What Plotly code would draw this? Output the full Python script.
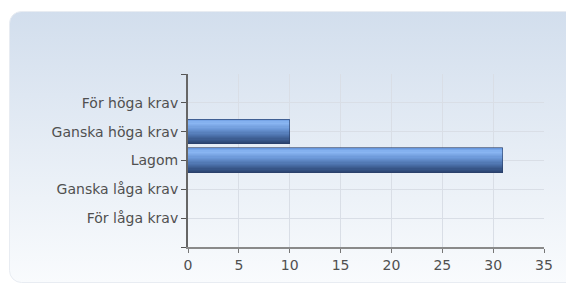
import plotly.graph_objects as go
import urllib.parse

categories = ["För höga krav", "Ganska höga krav", "Lagom", "Ganska låga krav", "För låga krav"]
values = [0, 10, 31, 0, 0]
x_ticks = [0, 5, 10, 15, 20, 25, 30, 35]

W, H = 566, 284
L, R, T, B = 188, 22, 74, 37
pw, ph = W - L - R, H - T - B

positions = list(range(len(categories)))

# bar gradient colours, top -> bottom
stops = [(0.0, (95, 143, 216)), (0.15, (140, 184, 244)), (0.4, (108, 152, 216)),
         (0.7, (74, 111, 168)), (1.0, (42, 67, 112))]

def grad(t):
    for (a, ca), (b, cb) in zip(stops[:-1], stops[1:]):
        if a <= t <= b:
            f = (t - a) / (b - a) if b > a else 0
            c = [round(ca[k] + (cb[k] - ca[k]) * f) for k in range(3)]
            return "rgb(%d,%d,%d)" % tuple(c)
    return "rgb(%d,%d,%d)" % stops[-1][1]

fig = go.Figure()
N = 20
bw = 0.84
sw = bw / N
for i in range(N):
    fig.add_trace(go.Bar(
        x=values, y=positions, orientation="h",
        width=sw * 1.05, offset=-bw / 2 + i * sw,
        marker=dict(color=grad((i + 0.5) / N), line=dict(width=0)),
        showlegend=False, hoverinfo="skip",
    ))
# thin outline
fig.add_trace(go.Bar(
    x=values, y=positions, orientation="h", width=bw,
    marker=dict(color="rgba(0,0,0,0)", line=dict(width=1, color="rgba(40,60,100,0.6)")),
    showlegend=False, hoverinfo="skip",
))

svg = (
    "<svg xmlns='http://www.w3.org/2000/svg' width='566' height='272' viewBox='0 0 566 272' preserveAspectRatio='none'>"
    "<defs><linearGradient id='g' x1='0' y1='0' x2='0' y2='1'>"
    "<stop offset='0' stop-color='#d2deed'/><stop offset='1' stop-color='#f9fbfd'/>"
    "</linearGradient></defs>"
    "<rect x='0.5' y='0.5' width='580' height='271' rx='12' ry='12' fill='url(#g)' stroke='#e8ecf2'/></svg>"
)
src = "data:image/svg+xml;charset=utf-8," + urllib.parse.quote(svg)

px0, py0, px1, py1 = 9, 11, 575, 283
fig.add_layout_image(dict(
    source=src, xref="paper", yref="paper",
    x=(px0 - L) / pw, y=(H - B - py0) / ph,
    sizex=(px1 - px0) / pw, sizey=(py1 - py0) / ph,
    sizing="stretch", xanchor="left", yanchor="top", layer="below",
))

font = dict(family="DejaVu Sans, Verdana, sans-serif", size=14, color="#505050")

fig.update_layout(
    width=W, height=H,
    margin=dict(l=L, r=R, t=T, b=B, pad=0),
    paper_bgcolor="white", plot_bgcolor="rgba(0,0,0,0)",
    barmode="overlay", bargap=0,
    font=font,
    xaxis=dict(range=[0, 35], tickvals=x_ticks, ticktext=[str(v) for v in x_ticks],
               showgrid=True, gridcolor="#d9dee6", gridwidth=1,
               showline=True, linecolor="#8a8a8a", linewidth=2,
               ticks="outside", ticklen=4, tickcolor="#777", tickwidth=1,
               zeroline=False, fixedrange=True),
    yaxis=dict(range=[len(categories), -1],
               tickvals=[-1] + positions + [len(categories)],
               ticktext=[""] + categories + [""],
               showgrid=True, gridcolor="#d9dee6", gridwidth=1,
               showline=True, linecolor="#666", linewidth=2,
               ticks="outside", ticklen=5, tickcolor="#555", tickwidth=1,
               zeroline=False, fixedrange=True),
)

fig.write_html(
    "out.html",
    config={"displayModeBar": False},
    post_script=("document.body.style.margin='0';"
                 "document.body.style.overflow='hidden';"
                 "document.documentElement.style.overflow='hidden';"),
)
